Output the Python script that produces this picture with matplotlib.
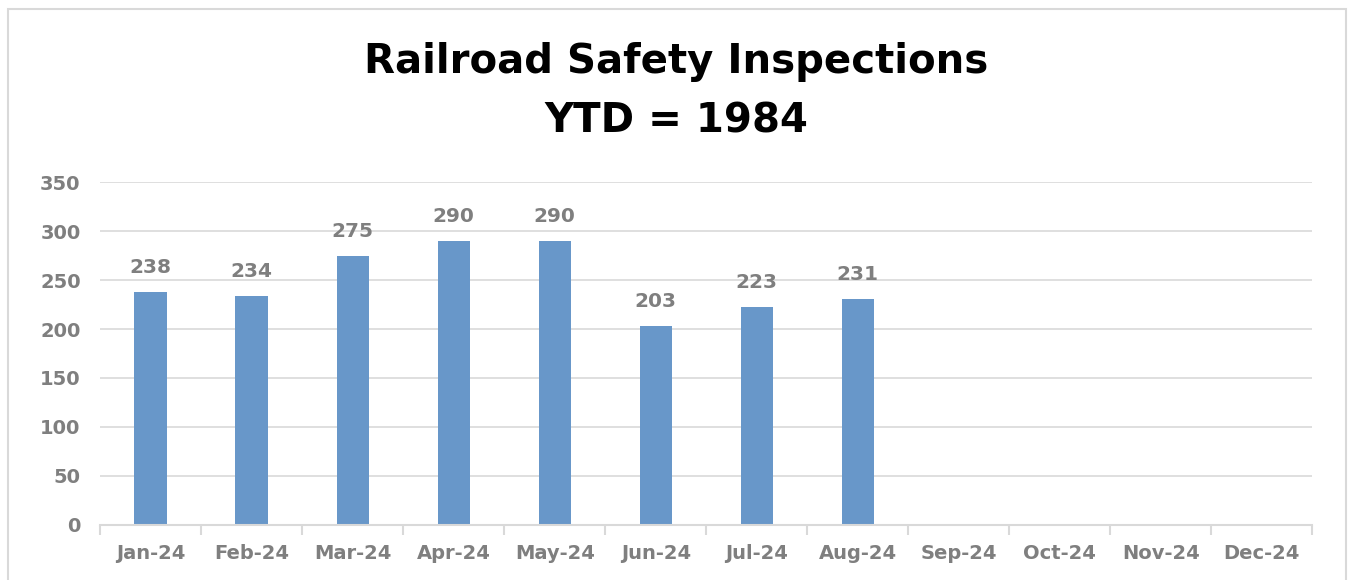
import matplotlib.pyplot as plt
import numpy as np
from matplotlib.patches import Rectangle

plt.rcParams['font.family'] = ['DejaVu Sans']

# data
months = ["Jan-24", "Feb-24", "Mar-24", "Apr-24", "May-24", "Jun-24",
          "Jul-24", "Aug-24", "Sep-24", "Oct-24", "Nov-24", "Dec-24"]
inspections = [238, 234, 275, 290, 290, 203, 223, 231]
ytd = 1984
yticks = [0, 50, 100, 150, 200, 250, 300, 350]

bar_color = "#6897C9"
text_gray = "#7F7F7F"
grid_gray = "#D9D9D9"

fig = plt.figure(figsize=(13.53, 5.8), dpi=100)
ax = fig.add_axes([0.074, 0.095, 0.896, 0.591])

x = np.arange(len(months))
ax.bar(x[:len(inspections)], inspections, width=0.32, color=bar_color, zorder=3)

# value labels
for xi, v in zip(x, inspections):
    ax.text(xi, v + 15, str(v), ha="center", va="bottom",
            fontsize=14.5, fontweight="bold", color=text_gray)

ax.set_xlim(-0.5, len(months) - 0.5)
ax.set_ylim(0, 350)
ax.set_yticks(yticks)
ax.set_xticks(x)
ax.set_xticklabels(months)
ax.set_xticks(np.arange(-0.5, len(months)), minor=True)
ax.tick_params(axis="x", which="major", length=0, pad=14,
               labelsize=14, labelcolor=text_gray)
ax.tick_params(axis="x", which="minor", length=7, color=grid_gray, width=1.5)
ax.tick_params(axis="y", length=0, pad=14, labelsize=14, labelcolor=text_gray)
for lbl in ax.get_xticklabels() + ax.get_yticklabels():
    lbl.set_fontweight("bold")

ax.grid(axis="y", color=grid_gray, linewidth=1.2, zorder=0)
for s in ["top", "right", "left"]:
    ax.spines[s].set_visible(False)
ax.spines["bottom"].set_color(grid_gray)
ax.spines["bottom"].set_linewidth(1.5)
ax.spines["bottom"].set_zorder(4)

fig.text(0.5, 0.893, "Railroad Safety Inspections", ha="center", va="center",
         fontsize=29, fontweight="bold", color="black")
fig.text(0.5, 0.79, f"YTD = {ytd}", ha="center", va="center",
         fontsize=29, fontweight="bold", color="black")

# outer chart border
fig.patches.append(Rectangle((0.006, -0.02), 0.989, 1.005, transform=fig.transFigure,
                             fill=False, edgecolor=grid_gray, linewidth=1.5))

fig.savefig("out.png", dpi=100)
